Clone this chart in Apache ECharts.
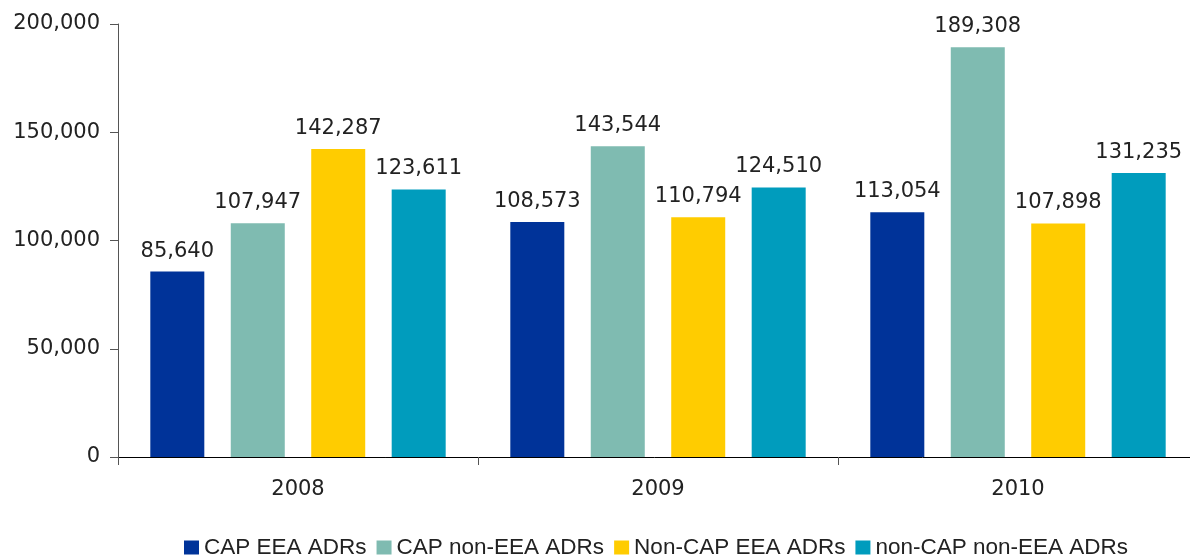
<!DOCTYPE html>
<html>
<head>
<meta charset="utf-8">
<script src="https://cdn.jsdelivr.net/npm/echarts@6/dist/echarts.min.js"></script>
<style>
html,body{margin:0;padding:0;background:#fff;}
#c{width:1190px;height:557px;}
</style>
</head>
<body>
<div id="c"></div>
<script>
const categories = ['2008', '2009', '2010'];
const seriesNames = ['CAP EEA ADRs', 'CAP non-EEA ADRs', 'Non-CAP EEA ADRs', 'non-CAP non-EEA ADRs'];
const capEea = [85640, 108573, 113054];
const capNonEea = [107947, 143544, 189308];
const nonCapEea = [142287, 110794, 107898];
const nonCapNonEea = [123611, 124510, 131235];
const colors = ['#003399', '#7FBBB1', '#FFCC00', '#009CBD'];
const yTicks = [0, 50000, 100000, 150000, 200000];

const fmt = v => Number(v).toLocaleString('en-US');
const valueFont = {fontFamily: 'DejaVu Sans', fontSize: 21, color: '#222'};

const seriesData = [capEea, capNonEea, nonCapEea, nonCapNonEea];
const chart = echarts.init(document.getElementById('c'));
chart.setOption({
  animation: false,
  color: colors,
  grid: {left: 118, width: 1080, top: 24, bottom: 100, containLabel: false, outerBoundsMode: 'none'},
  legend: {
    left: 184, top: 536, padding: 0,
    itemWidth: 15, itemHeight: 14, itemGap: 10,
    icon: 'rect',
    textStyle: {fontFamily: 'Liberation Sans', fontSize: 22.5, color: '#222'},
    data: seriesNames
  },
  xAxis: {
    type: 'category',
    data: categories,
    axisLine: {lineStyle: {color: '#000', width: 1}},
    axisTick: {show: true, length: 8, alignWithLabel: false, lineStyle: {color: '#555'}},
    axisLabel: {margin: 22, fontFamily: 'DejaVu Sans', fontSize: 21, color: '#222'}
  },
  yAxis: {
    type: 'value',
    min: yTicks[0], max: yTicks[yTicks.length - 1], interval: 50000,
    axisLine: {show: true, lineStyle: {color: '#555', width: 1}},
    axisTick: {show: true, length: 8, lineStyle: {color: '#555'}},
    splitLine: {show: false},
    axisLabel: {margin: 18, fontFamily: 'DejaVu Sans', fontSize: 21, color: '#222', formatter: fmt}
  },
  series: seriesNames.map((n, i) => ({
    name: n,
    type: 'bar',
    data: seriesData[i],
    barWidth: 54,
    barGap: '49%',
    itemStyle: {color: colors[i]},
    label: Object.assign({show: true, position: 'top', distance: 10, formatter: p => fmt(p.value)}, valueFont)
  }))
});
</script>
</body>
</html>
